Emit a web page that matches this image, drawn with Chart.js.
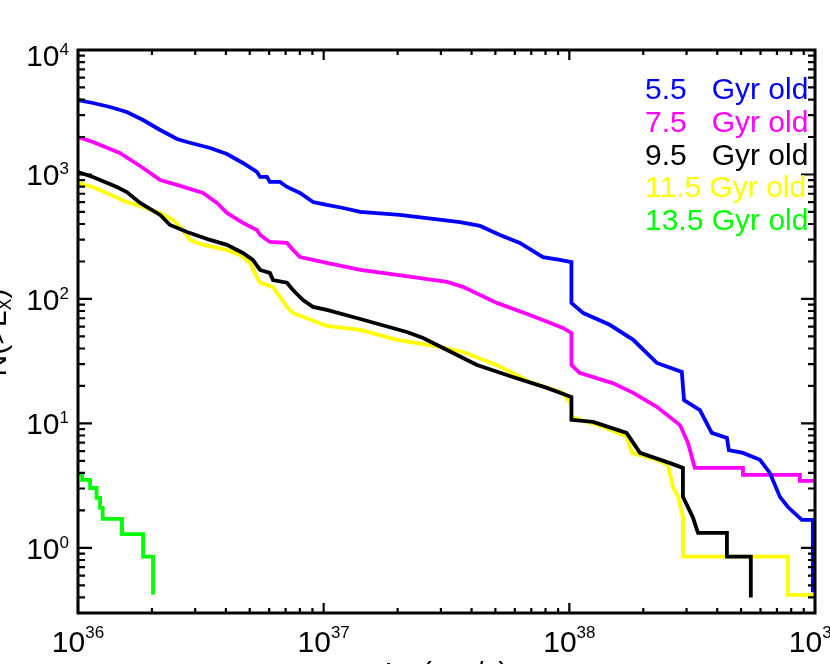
<!DOCTYPE html>
<html>
<head>
<meta charset="utf-8">
<script src="https://cdn.jsdelivr.net/npm/chart.js@4.4.1/dist/chart.umd.min.js"></script>
<style>
  html, body { margin: 0; padding: 0; background: #fff; }
  #wrap { width: 830px; height: 664px; position: relative; }
</style>
</head>
<body>
<div id="wrap"><canvas id="c" width="830" height="664"></canvas></div>
<script>
// ---- data ----
const seriesNames = ['5.5   Gyr old', '7.5   Gyr old', '9.5   Gyr old', '11.5 Gyr old', '13.5 Gyr old'];
const seriesColors = ['#0000ff', '#ff00ff', '#000000', '#ffff00', '#00ff00'];

const lumBlue = [1.00e36, 1.15e36, 1.35e36, 1.58e36, 1.84e36, 2.16e36, 2.53e36, 2.78e36, 3.45e36, 4.04e36, 4.69e36, 5.35e36, 5.51e36, 5.88e36, 6.04e36, 6.64e36, 7.09e36, 8.01e36, 9.05e36, 1.03e37, 1.20e37, 1.41e37, 2.04e37, 3.59e37, 4.33e37, 5.22e37, 6.29e37, 7.81e37, 9.16e37, 1.02e38, 1.02e38, 1.14e38, 1.46e38, 1.82e38, 2.27e38, 2.87e38, 2.93e38, 3.40e38, 3.80e38, 4.38e38, 4.46e38, 5.09e38, 5.97e38, 6.55e38, 7.20e38, 7.76e38, 8.84e38, 9.80e38, 9.80e38];
const numBlue = [3965, 3752, 3486, 3177, 2740, 2277, 1928, 1824, 1633, 1461, 1237, 1047, 955, 955, 871, 871, 794, 710, 601, 569, 538, 500, 473, 415, 386, 327, 282, 217, 206, 198, 93, 77, 62, 47, 30.6, 25.9, 15.4, 12.8, 8.4, 7.65, 6.1, 5.8, 5.1, 4.0, 2.57, 2.13, 1.68, 1.68, 0.44];

const lumMagenta = [1.00e36, 1.15e36, 1.48e36, 1.84e36, 2.16e36, 2.53e36, 3.23e36, 3.68e36, 4.04e36, 4.69e36, 5.35e36, 5.51e36, 6.04e36, 7.09e36, 7.50e36, 8.01e36, 1.03e37, 1.41e37, 1.99e37, 3.18e37, 3.69e37, 5.07e37, 6.91e37, 9.42e37, 1.02e38, 1.02e38, 1.10e38, 1.50e38, 1.82e38, 2.27e38, 2.82e38, 3.04e38, 3.24e38, 5.09e38, 5.09e38, 8.68e38, 8.68e38, 1.00e39];
const numMagenta = [2001, 1824, 1488, 1128, 903, 824, 710, 590, 491, 408, 358, 327, 287, 282, 248, 217, 195, 171, 156, 137, 125, 93, 74.4, 58.5, 53.3, 29.5, 25.5, 21.1, 17.6, 13.6, 9.7, 7.0, 4.39, 4.39, 3.86, 3.86, 3.45, 3.45];

const lumBlack = [1.00e36, 1.15e36, 1.44e36, 1.58e36, 1.79e36, 2.16e36, 2.37e36, 2.78e36, 3.45e36, 4.04e36, 4.69e36, 5.15e36, 5.51e36, 6.04e36, 6.22e36, 7.09e36, 7.50e36, 8.24e36, 9.05e36, 1.03e37, 1.41e37, 2.18e37, 2.54e37, 3.18e37, 4.21e37, 5.89e37, 8.11e37, 1.02e38, 1.02e38, 1.25e38, 1.71e38, 1.94e38, 2.57e38, 2.90e38, 2.90e38, 3.18e38, 3.34e38, 4.38e38, 4.38e38, 5.48e38, 5.48e38];
const numBlack = [1047, 955, 794, 723, 590, 473, 393, 345, 298, 272, 234, 206, 171, 162, 142, 135, 118, 98, 86.3, 81.6, 69, 54.3, 48.6, 38.9, 29.5, 23.6, 19.3, 16.3, 10.7, 10.3, 8.4, 5.8, 4.8, 4.39, 2.57, 1.77, 1.32, 1.32, 0.85, 0.85, 0.40];

const lumYellow = [1.00e36, 1.15e36, 1.58e36, 1.84e36, 2.16e36, 2.44e36, 2.67e36, 2.86e36, 3.23e36, 4.04e36, 4.56e36, 5.01e36, 5.35e36, 5.51e36, 6.22e36, 7.09e36, 7.50e36, 1.03e37, 1.41e37, 1.99e37, 2.97e37, 3.69e37, 5.07e37, 6.91e37, 9.42e37, 1.02e38, 1.02e38, 1.37e38, 1.71e38, 1.80e38, 2.27e38, 2.52e38, 2.64e38, 2.77e38, 2.90e38, 2.90e38, 7.76e38, 7.76e38, 1.00e39];
const numYellow = [855, 794, 601, 548, 491, 431, 358, 298, 272, 248, 226, 195, 150, 135, 125, 86.3, 77.2, 60.7, 56.4, 46.9, 41.2, 37.5, 29.5, 21.5, 17.6, 14.1, 11.3, 9.4, 7.8, 5.8, 5.1, 4.64, 3.09, 2.57, 1.77, 0.85, 0.85, 0.42, 0.42];

const lumGreen = [1.00e36, 1.04e36, 1.04e36, 1.12e36, 1.12e36, 1.19e36, 1.19e36, 1.23e36, 1.23e36, 1.26e36, 1.26e36, 1.51e36, 1.51e36, 1.84e36, 1.84e36, 2.02e36, 2.02e36];
const numGreen = [3.93, 3.93, 3.52, 3.52, 3.03, 3.03, 2.52, 2.52, 2.10, 2.10, 1.71, 1.71, 1.29, 1.29, 0.85, 0.85, 0.42];

const xTickExponents = [36, 37, 38, 39];
const yTickExponents = [0, 1, 2, 3, 4];
const minorMultipliers = [2, 3, 4, 5, 6, 7, 8, 9];
const xRange = [1e36, 1e39];
const yRange = [0.3, 1e4];

// ---- build datasets ----
const lumLists = [lumBlue, lumMagenta, lumBlack, lumYellow, lumGreen];
const numLists = [numBlue, numMagenta, numBlack, numYellow, numGreen];
const datasets = lumLists.map((L, i) => ({
  label: seriesNames[i],
  data: L.map((v, j) => ({ x: v, y: numLists[i][j] })),
  borderColor: seriesColors[i],
  backgroundColor: seriesColors[i],
  borderWidth: 3.8,
  pointRadius: 0,
  tension: 0,
  showLine: true,
  fill: false,
  borderJoinStyle: 'miter',
  borderCapStyle: 'butt'
}));

const FONT = '"Liberation Sans", Arial, Helvetica, sans-serif';

const idlFrame = {
  id: 'idlFrame',
  afterDatasetsDraw(chart) {
    const { ctx, chartArea: a } = chart;
    const xs = chart.scales.x, ys = chart.scales.y;
    ctx.save();
    ctx.strokeStyle = '#000';
    ctx.fillStyle = '#000';
    ctx.lineCap = 'butt';

    // ticks on x (bottom & top), inward
    ctx.lineWidth = 2.2;
    xTickExponents.forEach(e => {
      [1].concat(minorMultipliers).forEach(m => {
        const v = m * Math.pow(10, e);
        if (v < xRange[0] * 0.999 || v > xRange[1] * 1.001) return;
        const px = xs.getPixelForValue(v);
        const len = m === 1 ? 10 : 5;
        ctx.beginPath();
        ctx.moveTo(px, a.bottom); ctx.lineTo(px, a.bottom - len);
        ctx.moveTo(px, a.top); ctx.lineTo(px, a.top + len);
        ctx.stroke();
      });
    });
    // ticks on y (left & right), inward
    [-1].concat(yTickExponents).forEach(e => {
      [1].concat(minorMultipliers).forEach(m => {
        const v = m * Math.pow(10, e);
        if (v < yRange[0] * 0.999 || v > yRange[1] * 1.001) return;
        const py = ys.getPixelForValue(v);
        const len = m === 1 ? 14 : 7;
        ctx.beginPath();
        ctx.moveTo(a.left, py); ctx.lineTo(a.left + len, py);
        ctx.moveTo(a.right, py); ctx.lineTo(a.right - len, py);
        ctx.stroke();
      });
    });

    // frame
    ctx.lineWidth = 3;
    ctx.strokeRect(a.left, a.top, a.right - a.left, a.bottom - a.top);

    const baseFont = '30px ' + FONT;
    const expFont = '17px ' + FONT;
    const subFont = '18px ' + FONT;

    // x tick labels
    ctx.textBaseline = 'alphabetic';
    ctx.textAlign = 'left';
    xTickExponents.forEach(e => {
      const px = xs.getPixelForValue(Math.pow(10, e));
      ctx.font = baseFont; const wb = ctx.measureText('10').width;
      ctx.font = expFont; const we = ctx.measureText(String(e)).width;
      const x0 = px - (wb + we) / 2;
      ctx.font = baseFont; ctx.fillText('10', x0, a.bottom + 39);
      ctx.font = expFont; ctx.fillText(String(e), x0 + wb, a.bottom + 25);
    });

    // y tick labels
    yTickExponents.forEach(e => {
      const py = ys.getPixelForValue(Math.pow(10, e));
      ctx.font = expFont; const we = ctx.measureText(String(e)).width;
      ctx.font = baseFont; const wb = ctx.measureText('10').width;
      const xr = a.left - 9;
      const off = (e === yTickExponents[yTickExponents.length - 1]) ? 5 : 0;
      ctx.font = baseFont; ctx.fillText('10', xr - we - wb, py + 11 + off);
      ctx.font = expFont; ctx.fillText(String(e), xr - we, py + off);
    });

    // y axis title, rotated: N(>L_X)
    ctx.save();
    ctx.translate(6, (a.top + a.bottom) / 2 + 1);
    ctx.rotate(-Math.PI / 2);
    ctx.font = baseFont; const w1 = ctx.measureText('N(>L').width; const w3 = ctx.measureText(')').width;
    ctx.font = subFont; const w2 = ctx.measureText('X').width;
    let sx = -(w1 + w2 + w3) / 2;
    ctx.font = baseFont; ctx.fillText('N(>L', sx, 0); sx += w1;
    ctx.font = subFont; ctx.fillText('X', sx, 5); sx += w2;
    ctx.font = baseFont; ctx.fillText(')', sx, 0);
    ctx.restore();

    // x axis title: L_X (erg/s)
    {
      ctx.font = baseFont; const t1 = ctx.measureText('L').width; const t3 = ctx.measureText(' (erg/s)').width;
      ctx.font = subFont; const t2 = ctx.measureText('X').width;
      let tx = (a.left + a.right) / 2 - (t1 + t2 + t3) / 2;
      const by = a.bottom + 70;
      ctx.font = baseFont; ctx.fillText('L', tx, by); tx += t1;
      ctx.font = subFont; ctx.fillText('X', tx, by + 5); tx += t2;
      ctx.font = baseFont; ctx.fillText(' (erg/s)', tx, by);
    }

    // legend text
    ctx.font = baseFont;
    seriesNames.forEach((s, i) => {
      ctx.fillStyle = seriesColors[i];
      ctx.fillText(s, 645, 99 + i * 32.75);
    });
    ctx.restore();
  }
};

new Chart(document.getElementById('c'), {
  type: 'scatter',
  data: { datasets },
  options: {
    responsive: false,
    animation: false,
    layout: { padding: { left: 78, right: 15, top: 50, bottom: 51 } },
    plugins: { legend: { display: false }, tooltip: { enabled: false } },
    scales: {
      x: { type: 'logarithmic', min: xRange[0], max: xRange[1], display: false },
      y: { type: 'logarithmic', min: yRange[0], max: yRange[1], display: false }
    }
  },
  plugins: [idlFrame]
});
</script>
</body>
</html>
